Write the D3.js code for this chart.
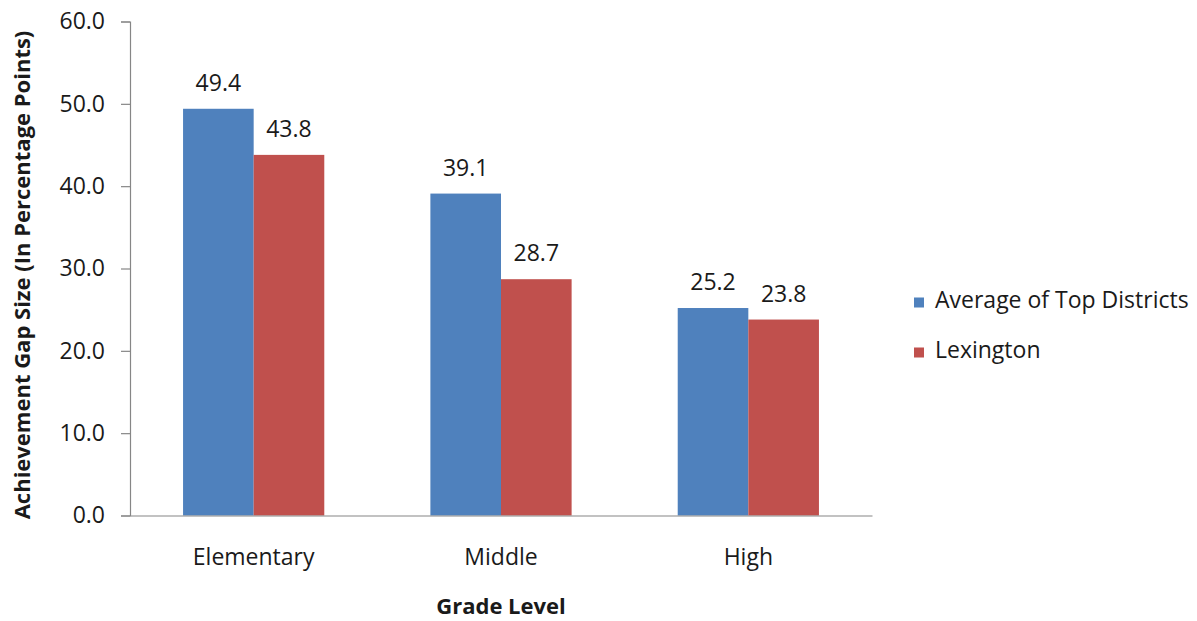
<!DOCTYPE html>
<html>
<head>
<meta charset="utf-8">
<script src="https://cdn.jsdelivr.net/npm/d3@7"></script>
<style>
  html, body { margin: 0; padding: 0; background: #ffffff; }
  svg { display: block; font-family: "Open Sans", "DejaVu Sans", sans-serif; }
</style>
</head>
<body>
<svg id="chart" width="1197" height="621"></svg>
<script>
// Achievement gap by grade level
const categories = ["Elementary", "Middle", "High"];
const seriesNames = ["Average of Top Districts", "Lexington"];
const topDistricts = [49.4, 39.1, 25.2];
const lexington = [43.8, 28.7, 23.8];
const yTicks = [0, 10, 20, 30, 40, 50, 60];
const colors = ["#4F81BD", "#C0504D"];

const seriesValues = [topDistricts, lexington];
const rows = categories.map((c, i) => ({
  category: c,
  values: seriesNames.map((s, k) => ({ series: s, idx: k, value: seriesValues[k][i] }))
}));

const svg = d3.select("#chart");
const plotLeft = 130, plotRight = 872, plotTop = 21.5, plotBottom = 515.5;
const textColor = "#1a1a1a";
const fs = 23;

const x = d3.scaleBand().domain(categories).range([plotLeft, plotRight]).padding(0);
const bw = x.bandwidth();
const x1 = d3.scaleBand().domain(seriesNames).range([bw * 0.2145, bw * 0.7855]).padding(0);
const y = d3.scaleLinear().domain([0, 60]).range([plotBottom, plotTop]);

// bars
const groups = svg.append("g").selectAll("g").data(rows).join("g")
  .attr("transform", d => `translate(${x(d.category)},0)`);

groups.selectAll("rect").data(d => d.values).join("rect")
  .attr("x", d => x1(d.series))
  .attr("width", x1.bandwidth())
  .attr("y", d => y(d.value))
  .attr("height", d => y(0) - y(d.value))
  .attr("fill", d => colors[d.idx]);

// value labels
groups.selectAll("text").data(d => d.values).join("text")
  .attr("x", d => x1(d.series) + x1.bandwidth() / 2)
  .attr("y", d => y(d.value) - 18)
  .attr("text-anchor", "middle")
  .attr("font-size", fs)
  .attr("fill", textColor)
  .text(d => d.value.toFixed(1));

// y axis
const yAxis = d3.axisLeft(y).tickValues(yTicks).tickSize(9).tickPadding(16)
  .tickFormat(d => d.toFixed(1));
const gy = svg.append("g").attr("transform", `translate(${plotLeft},0)`).call(yAxis);
gy.select(".domain").attr("stroke", "#868686").attr("stroke-width", 1.2);
gy.selectAll(".tick line").attr("stroke", "#868686").attr("stroke-width", 1.2);
gy.selectAll(".tick text").attr("font-size", fs).attr("fill", textColor)
  .attr("font-family", "'Open Sans', sans-serif");

// x axis
const xAxis = d3.axisBottom(x).tickSize(0).tickPadding(33);
const gx = svg.append("g").attr("transform", `translate(0,${plotBottom})`).call(xAxis);
gx.select(".domain").attr("stroke", "#868686").attr("stroke-width", 1.2);
gx.selectAll(".tick text").attr("font-size", fs).attr("fill", textColor)
  .attr("font-family", "'Open Sans', sans-serif");

// axis titles
svg.append("text")
  .attr("x", 501)
  .attr("y", 614)
  .attr("text-anchor", "middle")
  .attr("font-size", 22)
  .attr("font-weight", "bold")
  .attr("fill", textColor)
  .text("Grade Level");

svg.append("text")
  .attr("transform", `translate(30,275) rotate(-90)`)
  .attr("text-anchor", "middle")
  .attr("font-size", 22)
  .attr("font-weight", "bold")
  .attr("fill", textColor)
  .text("Achievement Gap Size (In Percentage Points)");

// legend
const legend = svg.append("g").selectAll("g").data(seriesNames).join("g")
  .attr("transform", (d, i) => `translate(914,${297.5 + i * 50})`);
legend.append("rect").attr("width", 10).attr("height", 10)
  .attr("fill", (d, i) => colors[i]);
legend.append("text").attr("x", 21).attr("y", 10)
  .attr("font-size", fs).attr("fill", textColor)
  .text(d => d);
</script>
</body>
</html>
